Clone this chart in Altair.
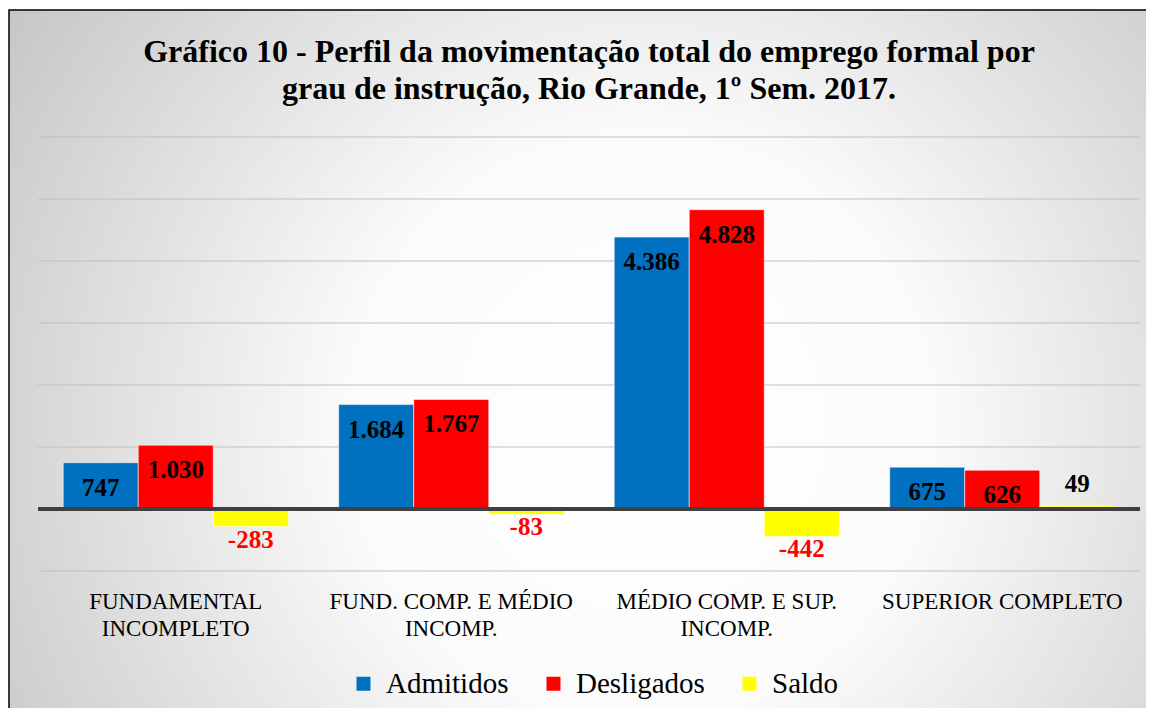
import altair as alt
import pandas as pd

categories = ["FUNDAMENTAL\nINCOMPLETO", "FUND. COMP. E MÉDIO\nINCOMP.",
              "MÉDIO COMP. E SUP.\nINCOMP.", "SUPERIOR COMPLETO"]
series = ["Admitidos", "Desligados", "Saldo"]
admitidos = [747, 1684, 4386, 675]
desligados = [1030, 1767, 4828, 626]
saldo = [-283, -83, -442, 49]
grid_values = [-1000, 0, 1000, 2000, 3000, 4000, 5000, 6000]
colors = ["#0070C0", "#FF0000", "#FFFF00"]
title_lines = ["Gráfico 10 - Perfil da movimentação total do emprego formal por",
               "grau de instrução, Rio Grande, 1º Sem. 2017."]

rows = []
for i, c in enumerate(categories):
    for s, vals in zip(series, [admitidos, desligados, saldo]):
        rows.append({"cat": c, "serie": s, "valor": vals[i]})
df = pd.DataFrame(rows)
grid_df = pd.DataFrame({"g": grid_values})

FONT = "Liberation Serif"
W, H = 1102, 434

yscale = alt.Scale(domain=[-1000, 6000], nice=False, zero=False)

xenc = alt.X("cat:N", sort=categories,
             scale=alt.Scale(paddingInner=0.183, paddingOuter=0.0915),
             axis=alt.Axis(title=None, labelExpr="split(datum.label, '\\n')",
                           labelAngle=0, domain=False, ticks=False, grid=False,
                           labelFont=FONT, labelFontSize=23, labelColor="black",
                           labelPadding=19, labelLineHeight=27, labelBaseline="top",
                           labelLimit=400, zindex=1))
xoff = alt.XOffset("serie:N", sort=series, scale=alt.Scale(paddingInner=0, paddingOuter=0))

bg = alt.Chart(pd.DataFrame({"bg": [0]})).mark_rect(
    fill={"gradient": "radial", "x1": 0.55, "y1": 0.55, "r1": 0,
          "x2": 0.55, "y2": 0.55, "r2": 0.72,
          "stops": [{"offset": 0, "color": "#ffffff"},
                    {"offset": 0.35, "color": "#fbfbfb"},
                    {"offset": 1, "color": "#bebebe"}]},
    stroke="black", strokeWidth=1.5
).encode(x=alt.value(-29), x2=alt.value(1120), y=alt.value(-127), y2=alt.value(590))

title = alt.Chart(pd.DataFrame({"t": [0]})).mark_text(
    font=FONT, fontSize=32, fontWeight="bold", color="black",
    align="center", baseline="middle", lineHeight=37
).encode(x=alt.value(W / 2), y=alt.value(-85), text=alt.value(title_lines))

grid = alt.Chart(grid_df).transform_filter("datum.g != 0").mark_rule(
    color="#bfbfbf", strokeWidth=1
).encode(y=alt.Y("g:Q", scale=yscale, axis=None))

zero = alt.Chart(grid_df).transform_filter("datum.g == 0").mark_rule(
    color="#404040", strokeWidth=4
).encode(y=alt.Y("g:Q", scale=yscale, axis=None))

base = alt.Chart(df).encode(x=xenc, xOffset=xoff,
                            y=alt.Y("valor:Q", scale=yscale, axis=None))

bars = base.mark_bar(stroke="white", strokeWidth=0.8, strokeOpacity=0.7).encode(
    color=alt.Color("serie:N", sort=series,
                    scale=alt.Scale(domain=series, range=colors),
                    legend=alt.Legend(title=None, orient="none", legendX=311, legendY=532,
                                      direction="horizontal", symbolType="square",
                                      symbolSize=196, symbolStrokeWidth=0,
                                      labelFont=FONT, labelFontSize=29, labelColor="black",
                                      columnPadding=30, labelOffset=8))
)

lab = "(datum.valor < 0 ? '-' : '') + replace(format(abs(datum.valor), ','), ',', '.')"
txt_style = dict(font=FONT, fontSize=25, fontWeight="bold")

t_main = base.transform_filter("datum.serie != 'Saldo'").transform_calculate(
    lbl=lab).mark_text(baseline="middle", dy=25, color="black", **txt_style).encode(text="lbl:N")
t_pos = base.transform_filter("datum.serie == 'Saldo' && datum.valor >= 0").transform_calculate(
    lbl=lab).mark_text(baseline="bottom", dy=-9, color="black", **txt_style).encode(text="lbl:N")
t_neg = base.transform_filter("datum.serie == 'Saldo' && datum.valor < 0").transform_calculate(
    lbl=lab).mark_text(baseline="top", dy=1, color="#FF0000", **txt_style).encode(text="lbl:N")

chart = alt.layer(bg, title, grid, bars, zero, t_main, t_pos, t_neg).properties(
    width=W, height=H,
    padding={"left": 30, "top": 129, "right": 6, "bottom": 137},
    autosize=alt.AutoSizeParams(type="none"),
    background="white",
).configure_view(strokeWidth=0)

chart.save("out.html", embed_options={"renderer": "svg", "actions": False})
